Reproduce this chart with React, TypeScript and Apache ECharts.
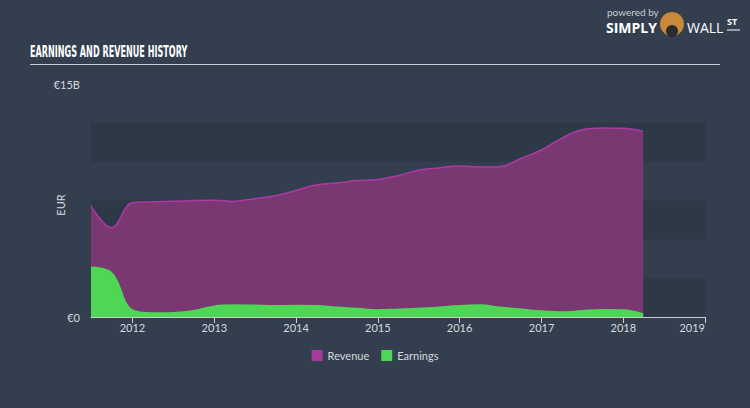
import React, { useEffect, useRef } from "react";
import * as echarts from "echarts";

const dates = [
  "2011-06-30", "2011-09-30", "2011-12-31", "2012-03-31", "2012-06-30", "2012-09-30", "2012-12-31",
  "2013-03-31", "2013-06-30", "2013-09-30", "2013-12-31", "2014-03-31", "2014-06-30", "2014-09-30",
  "2014-12-31", "2015-03-31", "2015-06-30", "2015-09-30", "2015-12-31", "2016-03-31", "2016-06-30",
  "2016-09-30", "2016-12-31", "2017-03-31", "2017-06-30", "2017-09-30", "2017-12-31", "2018-03-31",
];
const revenue = [
  7.15, 5.75, 7.35, 7.42, 7.45, 7.5, 7.52, 7.45, 7.62, 7.8, 8.15, 8.5, 8.62, 8.78,
  8.85, 9.1, 9.45, 9.6, 9.72, 9.66, 9.68, 10.2, 10.75, 11.5, 12.05, 12.17, 12.15, 11.95,
];
const earnings = [
  3.2, 2.85, 0.45, 0.25, 0.27, 0.4, 0.7, 0.77, 0.75, 0.72, 0.74, 0.73, 0.62, 0.55,
  0.45, 0.5, 0.55, 0.63, 0.73, 0.77, 0.62, 0.5, 0.38, 0.32, 0.4, 0.47, 0.45, 0.2,
];
const seriesNames = ["Revenue", "Earnings"];
const yLabels = { min: "€0", max: "€15B" };

const BG = "#333f4f";
const BAND = "#2d3947";
const PURPLE_FILL = "#7a3872";
const PURPLE_LINE = "#ad3aa4";
const GREEN = "#4fd655";

export default function App() {
  const ref = useRef<HTMLDivElement>(null);
  useEffect(() => {
    document.body.style.margin = "0";
    const chart = echarts.init(ref.current!, null, { renderer: "svg" });
    const B = 1e9;
    chart.setOption({
      animation: false,
      backgroundColor: BG,
      grid: { left: 91, right: 45, top: 84, bottom: 91 },
      legend: {
        data: seriesNames,
        bottom: 42,
        left: "center",
        itemWidth: 11,
        itemHeight: 11,
        itemGap: 12,
        icon: "rect",
        textStyle: { color: "#d5d9de", fontSize: 11, fontFamily: "Lato" },
      },
      xAxis: {
        type: "time",
        min: dates[0],
        max: "2019-01-01",
        minInterval: 365 * 24 * 3600 * 1000,
        maxInterval: 366 * 24 * 3600 * 1000,
        axisLine: { show: true, lineStyle: { color: "#c9ced4", width: 1 } },
        axisTick: { show: true, length: 6, lineStyle: { color: "#c9ced4" } },
        axisLabel: {
          color: "#d5d9de",
          fontSize: 11,
          fontFamily: "Lato",
          formatter: "{yyyy}",
          margin: 5,
          showMaxLabel: true,
          alignMaxLabel: "right",
        },
        splitLine: { show: false },
      },
      yAxis: {
        type: "value",
        min: 0,
        max: 15 * B,
        interval: 2.5 * B,
        axisLine: { show: false },
        axisTick: { show: false },
        axisLabel: {
          color: "#d5d9de",
          fontSize: 11,
          fontFamily: "Lato",
          margin: 11,
          formatter: (v: number) => (v === 0 ? yLabels.min : v === 15 * B ? yLabels.max : ""),
        },
        splitLine: { show: false },
        splitArea: { show: true, areaStyle: { color: [BAND, "rgba(0,0,0,0)"] } },
      },
      series: [
        {
          name: seriesNames[0],
          type: "line",
          smooth: 0.4,
          showSymbol: false,
          symbol: "none",
          data: dates.map((d, i) => [d, revenue[i] * B]),
          lineStyle: { color: PURPLE_LINE, width: 1.5 },
          itemStyle: { color: "#a8399e" },
          areaStyle: { color: PURPLE_FILL, opacity: 1 },
        },
        {
          name: seriesNames[1],
          type: "line",
          smooth: 0.4,
          showSymbol: false,
          symbol: "none",
          data: dates.map((d, i) => [d, earnings[i] * B]),
          lineStyle: { color: GREEN, width: 1.5 },
          itemStyle: { color: GREEN },
          areaStyle: { color: GREEN, opacity: 1 },
        },
      ],
      graphic: [
        {
          type: "text",
          x: 30,
          y: 45,
          scaleX: 0.6,
          style: {
            text: "EARNINGS AND REVENUE HISTORY",
            fill: "#ffffff",
            font: "bold 15px 'DejaVu Sans Condensed', 'DejaVu Sans', sans-serif",
          },
        },
        {
          type: "line",
          shape: { x1: 30, y1: 64.5, x2: 720, y2: 64.5 },
          style: { stroke: "#c9ced4", lineWidth: 1 },
        },
        {
          type: "text",
          x: 60,
          y: 205,
          rotation: Math.PI / 2,
          style: {
            text: "EUR",
            fill: "#d5d9de",
            font: "11px Lato",
            align: "center",
            verticalAlign: "middle",
          },
        },
        {
          type: "text",
          left: 607,
          top: 7,
          style: { text: "powered by", fill: "#c8ccd1", font: "10px Lato" },
        },
        {
          type: "text",
          left: 606,
          top: 20,
          style: { text: "SIMPLY", fill: "#ffffff", font: "bold 14px 'Open Sans'" },
        },
        {
          type: "circle",
          shape: { cx: 672, cy: 24, r: 12 },
          style: { fill: "#c8893a" },
        },
        {
          type: "circle",
          shape: { cx: 672, cy: 31, r: 6 },
          style: { fill: "#2a2a2a" },
        },
        {
          type: "text",
          left: 687,
          top: 20,
          style: { text: "WALL", fill: "#ffffff", font: "14px 'Open Sans'" },
        },
        {
          type: "text",
          left: 727,
          top: 17,
          style: { text: "ST", fill: "#ffffff", font: "bold 9px 'Open Sans'" },
        },
        {
          type: "line",
          shape: { x1: 727, y1: 30, x2: 740, y2: 30 },
          style: { stroke: "#ffffff", lineWidth: 1 },
        },
      ],
    });
    return () => chart.dispose();
  }, []);
  return (
    <div
      ref={ref}
      style={{ position: "fixed", left: 0, top: 0, width: 750, height: 408 }}
    />
  );
}
